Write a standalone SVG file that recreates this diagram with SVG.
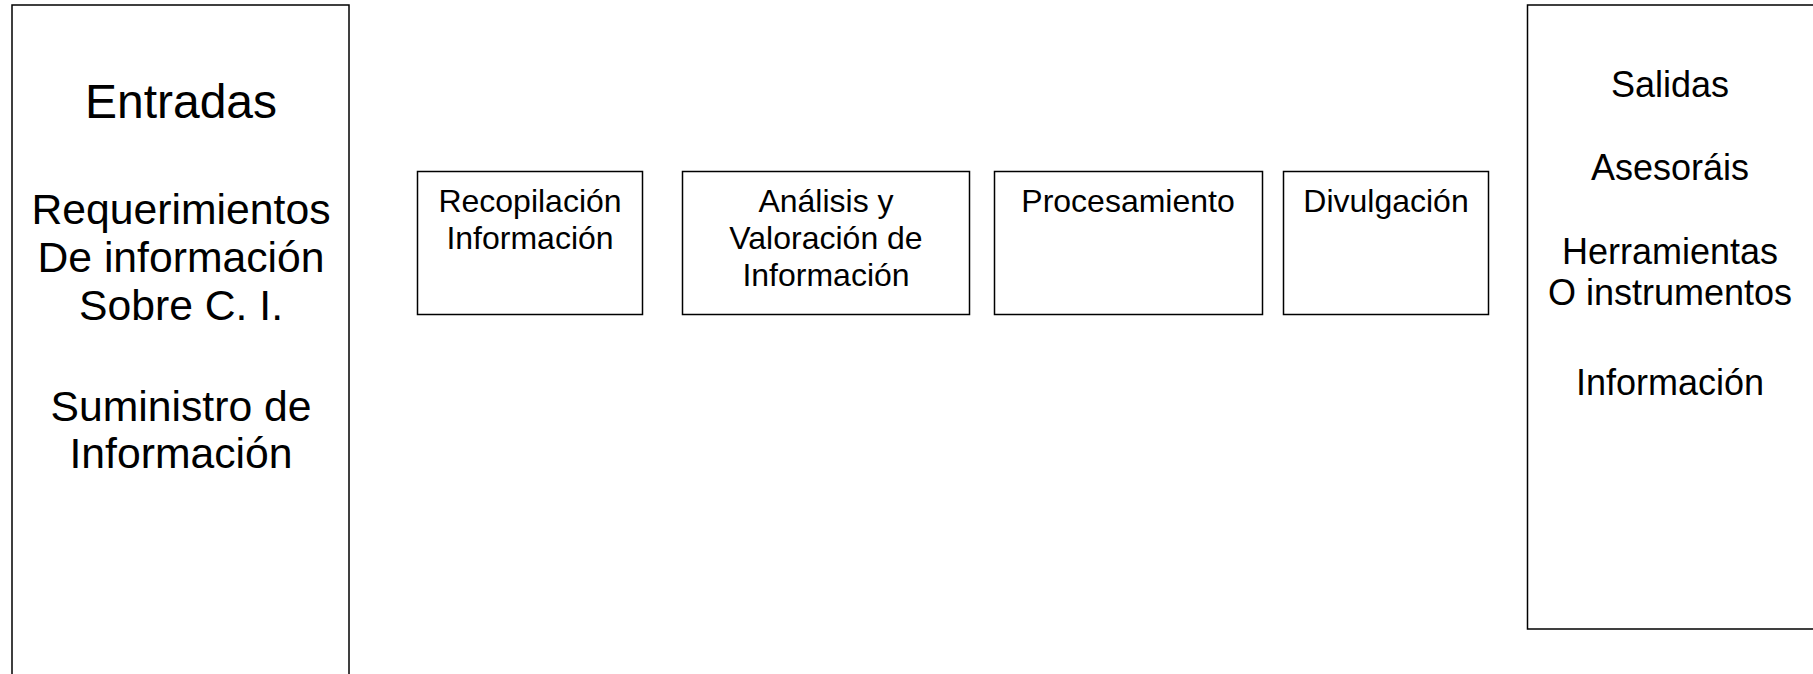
<svg xmlns="http://www.w3.org/2000/svg" width="1813" height="674" viewBox="0 0 1813 674">
<style>
.box{fill:#fff;stroke:#000;stroke-width:1.5}
text{font-family:"Liberation Sans",Arial,sans-serif;fill:#000;text-anchor:middle}
.big{font-size:42.7px}
.mid{font-size:36px}
.sm{font-size:32px}
</style>
<rect width="1813" height="674" fill="#fff"/>
<g id="entradas">
<rect class="box" x="12" y="5" width="337" height="680"/>
<text x="181" y="118" style="font-size:48px">Entradas</text>
<text class="big" x="181" y="224">Requerimientos</text>
<text class="big" x="181" y="272">De información</text>
<text class="big" x="181" y="320">Sobre C. I.</text>
<text class="big" x="181" y="421">Suministro de</text>
<text class="big" x="181" y="468"> Información</text>
</g>
<g id="recopilacion">
<rect class="box" x="417.5" y="171.5" width="225" height="143"/>
<text class="sm" x="530" y="212">Recopilación</text>
<text class="sm" x="530" y="249">Información</text>
</g>
<g id="analisis">
<rect class="box" x="682.5" y="171.5" width="287" height="143"/>
<text class="sm" x="826" y="212">Análisis y</text>
<text class="sm" x="826" y="249">Valoración de</text>
<text class="sm" x="826" y="286">Información</text>
</g>
<g id="procesamiento">
<rect class="box" x="994.5" y="171.5" width="268" height="143"/>
<text class="sm" x="1128" y="212">Procesamiento</text>
</g>
<g id="divulgacion">
<rect class="box" x="1283.5" y="171.5" width="205" height="143"/>
<text class="sm" x="1386" y="212">Divulgación</text>
</g>
<g id="salidas">
<rect class="box" x="1527.5" y="5" width="300" height="624"/>
<text class="mid" x="1670" y="97">Salidas</text>
<text class="mid" x="1670" y="180">Asesoráis</text>
<text class="mid" x="1670" y="264">Herramientas</text>
<text class="mid" x="1670" y="305">O instrumentos</text>
<text class="mid" x="1670" y="395">Información</text>
</g>
<g id="connectors"></g>
</svg>
